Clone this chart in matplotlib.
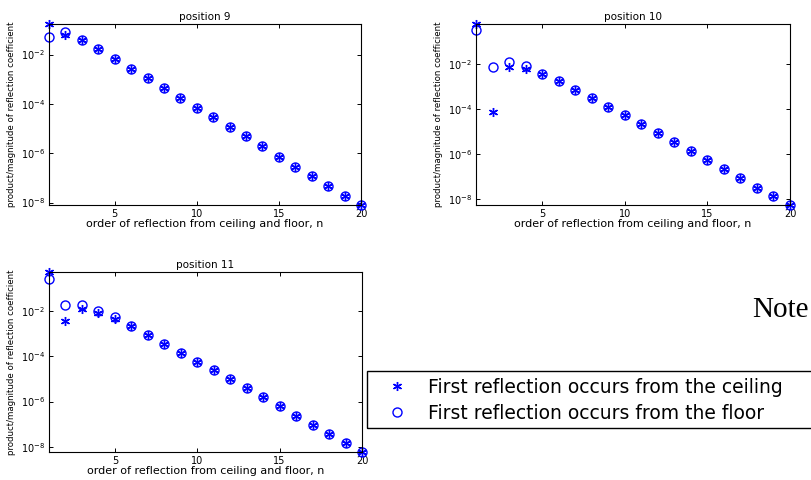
import matplotlib
matplotlib.use('Agg')
import matplotlib.pyplot as plt
from matplotlib.ticker import FixedLocator, LogFormatterSciNotation, NullLocator
from matplotlib.patches import Rectangle

# order of reflection
n = list(range(1, 21))

# log10 of product/magnitude of reflection coefficient
pos9_ceiling = [-0.76, -1.20, -1.42, -1.79, -2.18, -2.58, -2.97, -3.37, -3.75, -4.15,
                -4.55, -4.94, -5.32, -5.72, -6.14, -6.54, -6.94, -7.34, -7.72, -8.10]
pos9_floor = [-1.28, -1.08, -1.42, -1.79, -2.18, -2.58, -2.97, -3.37, -3.75, -4.15,
              -4.55, -4.94, -5.32, -5.72, -6.14, -6.54, -6.94, -7.34, -7.72, -8.10]

pos10_ceiling = [-0.21, -4.12, -2.10, -2.19, -2.43, -2.75, -3.12, -3.51, -3.88, -4.27,
                 -4.66, -5.06, -5.45, -5.85, -6.27, -6.66, -7.04, -7.48, -7.87, -8.25]
pos10_floor = [-0.48, -2.10, -1.88, -2.07, -2.43, -2.75, -3.12, -3.51, -3.88, -4.27,
               -4.66, -5.06, -5.45, -5.85, -6.27, -6.66, -7.04, -7.48, -7.87, -8.25]

pos11_ceiling = [-0.30, -2.44, -1.91, -2.09, -2.37, -2.68, -3.08, -3.47, -3.85, -4.24,
                 -4.62, -5.01, -5.42, -5.82, -6.21, -6.62, -7.02, -7.44, -7.83, -8.22]
pos11_floor = [-0.62, -1.76, -1.76, -2.00, -2.30, -2.68, -3.08, -3.47, -3.85, -4.24,
               -4.62, -5.01, -5.42, -5.82, -6.21, -6.62, -7.02, -7.44, -7.83, -8.22]

titles = ['position 9', 'position 10', 'position 11']
xticks = [5, 10, 15, 20]
yticks = [1e-2, 1e-4, 1e-6, 1e-8]
labels = ['First reflection occurs from the ceiling', 'First reflection occurs from the floor']

plt.rcParams['font.family'] = ['DejaVu Sans']

fig = plt.figure(figsize=(8.12, 4.8), dpi=100)
W, H = 812.0, 480.0

def px_axes(left, top, right, bottom):
    return fig.add_axes([left / W, 1 - bottom / H, (right - left) / W, (bottom - top) / H])

axes = [px_axes(49, 24, 361, 205), px_axes(476, 24, 790, 205), px_axes(49, 272, 362, 452)]
series = [(pos9_ceiling, pos9_floor), (pos10_ceiling, pos10_floor), (pos11_ceiling, pos11_floor)]

asterisk = (6, 2, 0)
handles = []
for ax, title, (ceil, floor) in zip(axes, titles, series):
    yc = [10 ** v for v in ceil]
    yf = [10 ** v for v in floor]
    h1, = ax.plot(n, yc, linestyle='none', marker=asterisk, markersize=6.5,
                  markeredgewidth=1.0, color='#0000ff', clip_on=False)
    h2, = ax.plot(n, yf, linestyle='none', marker='o', markersize=6.5,
                  markerfacecolor='none', markeredgewidth=1.0, color='#0000ff', clip_on=False)
    handles = [h1, h2]
    ax.set_yscale('log')
    ax.set_xlim(1, 20)
    ax.set_ylim(min(yc + yf), max(yc + yf))
    ax.xaxis.set_major_locator(FixedLocator(xticks))
    ax.yaxis.set_major_locator(FixedLocator(yticks))
    ax.yaxis.set_major_formatter(LogFormatterSciNotation())
    ax.yaxis.set_minor_locator(NullLocator())
    ax.tick_params(direction='in', length=3, width=0.7, labelsize=7,
                   top=True, right=True, pad=3)
    for s in ax.spines.values():
        s.set_linewidth(0.8)
    ax.set_title(title, fontsize=7.5, pad=3)
    ax.set_xlabel('order of reflection from ceiling and floor, n', fontsize=8, labelpad=0)
    ax.set_ylabel('product/magnitude of reflection coefficient', fontsize=6.2, labelpad=3)

# legend box runs off the right edge
fig.patches.append(Rectangle((367 / W, 1 - 428 / H), 460 / W, 57 / H,
                             transform=fig.transFigure, fill=False,
                             edgecolor='black', linewidth=1.0))
fig.legend(handles, labels, loc='upper left', bbox_to_anchor=(386 / W, 1 - 378 / H),
           frameon=False, fontsize=13.5, handlelength=1.2, handletextpad=1.05,
           labelspacing=0.35, borderpad=0, borderaxespad=0, markerscale=1.0)

fig.text(752 / W, 1 - 317 / H, 'Note', fontsize=21, family='Liberation Serif',
         va='baseline', ha='left')

fig.savefig('out.png', dpi=100)
